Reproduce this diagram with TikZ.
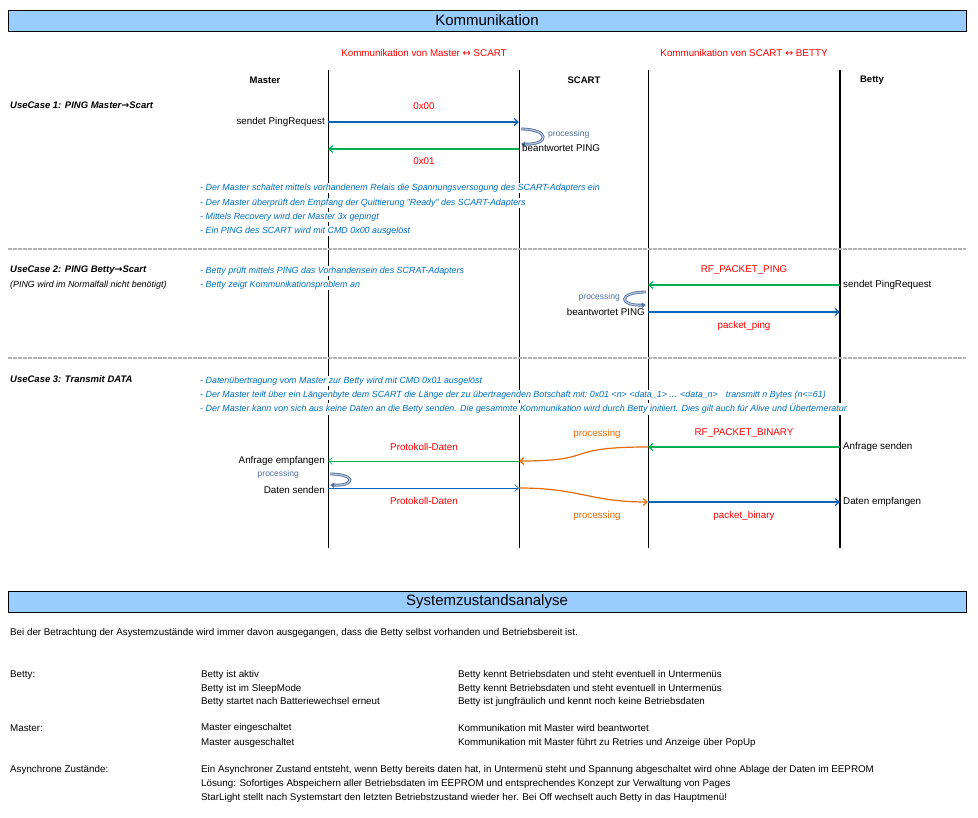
\documentclass[tikz,border=0pt]{standalone}
\usepackage{fontspec}
\setmainfont{Liberation Sans}
\newfontfamily\symfont{DejaVu Sans}
\usetikzlibrary{arrows.meta}
\definecolor{titleBlue}{HTML}{99CCFF}
\definecolor{msgRed}{HTML}{FF0000}
\definecolor{noteBlue}{HTML}{0070C0}
\definecolor{arrBlue}{HTML}{0B64B4}
\definecolor{arrGreen}{HTML}{00B050}
\definecolor{arrOrange}{HTML}{E36C09}
\definecolor{procBlue}{HTML}{4F6FA0}
\newcommand{\lr}{{\symfont\char"2194}}
\newcommand{\ra}{{\symfont\char"2192}}
\tikzset{
  txt/.style={inner sep=0pt, font=\fontsize{9.8}{11}\selectfont},
  titlebox/.style={draw, line width=0.8pt, fill=titleBlue, minimum width=958pt, minimum height=21pt, inner sep=0pt, font=\fontsize{15}{17}\selectfont},
  head/.style={txt, text=msgRed},
  colhead/.style={txt, font=\fontsize{9.5}{11}\selectfont\bfseries},
  usecase/.style={txt, anchor=west, font=\fontsize{9.5}{11}\selectfont\bfseries\itshape},
  note/.style={txt, anchor=west, text=noteBlue, fill=white, inner ysep=1pt, font=\fontsize{8.9}{10}\selectfont\itshape},
  msg/.style={txt, text=msgRed},
  proc/.style={txt, text=procBlue, font=\fontsize{8.5}{10}\selectfont},
  proco/.style={txt, text=arrOrange},
  life/.style={line width=0.5pt},
  sep/.style={draw=gray!60, line width=1.5pt, dash pattern=on 4pt off 1pt},
  blue arr/.style={draw=arrBlue, line width=1.2pt, -{Straight Barb[length=4pt,width=7pt]}},
  green arr/.style={draw=arrGreen, line width=1.2pt, -{Straight Barb[length=4pt,width=7pt]}},
  orange arr/.style={draw=arrOrange, line width=1.2pt, -{Straight Barb[length=4pt,width=7pt]}},
  loop/.style={draw=procBlue, double=procBlue!40, double distance=1.2pt, line width=0.8pt, -{Latex[length=4pt,width=6pt]}},
}
\begin{document}
\begin{tikzpicture}[x=1pt, y=-1pt]
    \useasboundingbox (0,0) rectangle (978,818);

    % Title Kommunikation
    \node[titlebox] (title1) at (487,20.5) {Kommunikation};
    \node[head] (hMS) at (424,53) {Kommunikation von Master \lr\ SCART};
    \node[head] (hSB) at (744,53) {Kommunikation von SCART \lr\ BETTY};
    \node[colhead] (cMaster) at (265,80) {Master};
    \node[colhead] (cScart) at (584,80) {SCART};
    \node[colhead] (cBetty) at (872,80) {Betty};

    % Lifelines
    \draw[life] (328,70) -- (328,548);
    \draw[life] (519,70) -- (519,548);
    \draw[life] (648,70) -- (648,548);
    \draw[life, line width=1.3pt] (840,70) -- (840,548);

    % Separators
    \draw[sep] (8,249) -- (966,249);
    \draw[sep] (8,358) -- (966,358);

    % UseCase 1
    \node[usecase] (uc1) at (10,105) {UseCase 1: PING Master\ra Scart};
    \node[txt, anchor=east] (u1send) at (325,122) {sendet PingRequest};
    \coordinate (m1) at (328,122);
    \coordinate (s1) at (519,122);
    \draw[blue arr] (m1) -- (s1);
    \node[msg] (u1req) at (424,106) {0x00};
    \draw[loop] (521,129) .. controls (550,129) and (550,145) .. (521,144);
    \node[proc, anchor=west] (u1proc) at (548,134) {processing};
    \node[txt, anchor=west] (u1ans) at (522,148) {beantwortet PING};
    \coordinate (s2) at (519,149);
    \coordinate (m2) at (328,149);
    \draw[green arr] (s2) -- (m2);
    \node[msg] (u1res) at (424,161) {0x01};
    \node[note] (n11) at (200,188) {- Der Master schaltet mittels vorhandenem Relais die Spannungsversogung des SCART-Adapters ein};
    \node[note] (n12) at (200,203) {- Der Master überprüft den Empfang der Quittierung "Ready" des SCART-Adapters};
    \node[note] (n13) at (200,217) {- Mittels Recovery wird der Master 3x gepingt};
    \node[note] (n14) at (200,231) {- Ein PING des SCART wird mit CMD 0x00 ausgelöst};

    % UseCase 2
    \node[usecase] (uc2) at (10,270) {UseCase 2: PING Betty\ra Scart};
    \node[txt, anchor=west, font=\fontsize{8.9}{10}\selectfont\itshape] (uc2b) at (10,285) {(PING wird im Normalfall nicht benötigt)};
    \node[note] (n21) at (200,271) {- Betty prüft mittels PING das Vorhandensein des SCRAT-Adapters};
    \node[note] (n22) at (200,285) {- Betty zeigt Kommunikationsproblem an};
    \coordinate (b3) at (840,285);
    \coordinate (s3) at (648,285);
    \draw[green arr] (b3) -- (s3);
    \node[msg] (u2req) at (744,270) {RF\_PACKET\_PING};
    \node[txt, anchor=west] (u2send) at (843,285) {sendet PingRequest};
    \draw[loop] (646,292) .. controls (618,292) and (618,306) .. (646,305);
    \node[proc, anchor=east] (u2proc) at (620,297) {processing};
    \node[txt, anchor=east] (u2ans) at (645,312) {beantwortet PING};
    \coordinate (s4) at (648,312);
    \coordinate (b4) at (840,312);
    \draw[blue arr] (s4) -- (b4);
    \node[msg] (u2res) at (744,326) {packet\_ping};

    % UseCase 3
    \node[usecase] (uc3) at (10,379) {UseCase 3: Transmit DATA};
    \node[note] (n31) at (200,381) {- Datenübertragung vom Master zur Betty wird mit CMD 0x01 ausgelöst};
    \node[note] (n32) at (200,395) {- Der Master teilt über ein Längenbyte dem SCART die Länge der zu übertragenden Botschaft mit:\ 0x01 <n> <data\_1> ... <data\_n>\hspace{8pt}transmitt n Bytes (n<=61)};
    \node[note] (n33) at (200,409) {- Der Master kann von sich aus keine Daten an die Betty senden. Die gesammte Kommunikation wird durch Betty initiiert. Dies gilt auch für Alive und Übertemeratur};
    \coordinate (b5) at (840,447);
    \coordinate (s5) at (648,447);
    \coordinate (r5) at (519,461);
    \coordinate (m5) at (328,461);
    \draw[green arr] (b5) -- (s5);
    \draw[orange arr] (s5) .. controls (560,447) and (600,461) .. (r5);
    \draw[draw=arrGreen, line width=0.6pt, -{Straight Barb[length=4pt,width=7pt]}] (r5) -- (m5);
    \node[msg] (u3req) at (744,433) {RF\_PACKET\_BINARY};
    \node[txt, anchor=west] (u3send) at (843,447) {Anfrage senden};
    \node[proco] (u3p1) at (597,434) {processing};
    \node[msg] (u3d1) at (424,447) {Protokoll-Daten};
    \node[txt, anchor=east] (u3rec) at (325,461) {Anfrage empfangen};
    \draw[loop] (330,474) .. controls (356,474) and (356,486) .. (330,485);
    \node[proc, anchor=east] (u3proc) at (299,474) {processing};
    \node[txt, anchor=east] (u3dat) at (325,490) {Daten senden};
    \coordinate (m6) at (328,488);
    \coordinate (r6) at (519,488);
    \coordinate (s6) at (648,502);
    \coordinate (b6) at (840,502);
    \draw[draw=arrBlue, line width=0.6pt, -{Straight Barb[length=4pt,width=7pt]}] (m6) -- (r6);
    \draw[orange arr] (r6) .. controls (580,488) and (590,502) .. (s6);
    \draw[blue arr] (s6) -- (b6);
    \node[msg] (u3d2) at (424,501) {Protokoll-Daten};
    \node[proco] (u3p2) at (597,516) {processing};
    \node[msg] (u3res) at (744,516) {packet\_binary};
    \node[txt, anchor=west] (u3emp) at (843,502) {Daten empfangen};

    % Title Systemzustandsanalyse
    \node[titlebox] (title2) at (487,601.5) {Systemzustandsanalyse};
    \node[txt, anchor=west] (intro) at (10,633) {Bei der Betrachtung der Asystemzustände wird immer davon ausgegangen, dass die Betty selbst vorhanden und Betriebsbereit ist.};

    \node[txt, anchor=west] (lBetty) at (10,675) {Betty:};
    \node[txt, anchor=west] (b1) at (201,675) {Betty ist aktiv};
    \node[txt, anchor=west] (b2) at (201,689) {Betty ist im SleepMode};
    \node[txt, anchor=west] (b3t) at (201,702) {Betty startet nach Batteriewechsel erneut};
    \node[txt, anchor=west] (bd1) at (458,675) {Betty kennt Betriebsdaten und steht eventuell in Untermenüs};
    \node[txt, anchor=west] (bd2) at (458,689) {Betty kennt Betriebsdaten und steht eventuell in Untermenüs};
    \node[txt, anchor=west] (bd3) at (458,702) {Betty ist jungfräulich und kennt noch keine Betriebsdaten};

    \node[txt, anchor=west] (lMaster) at (10,728) {Master:};
    \node[txt, anchor=west] (ma1) at (201,728) {Master eingeschaltet};
    \node[txt, anchor=west] (ma2) at (201,743) {Master ausgeschaltet};
    \node[txt, anchor=west] (md1) at (458,728) {Kommunikation mit Master wird beantwortet};
    \node[txt, anchor=west] (md2) at (458,743) {Kommunikation mit Master führt zu Retries und Anzeige über PopUp};

    \node[txt, anchor=west] (lAsync) at (10,770) {Asynchrone Zustände:};
    \node[txt, anchor=west] (as1) at (201,770) {Ein Asynchroner Zustand entsteht, wenn Betty bereits daten hat, in Untermenü steht und Spannung abgeschaltet wird ohne Ablage der Daten im EEPROM};
    \node[txt, anchor=west] (as2) at (201,784) {Lösung: Sofortiges Abspeichern aller Betriebsdaten im EEPROM und entsprechendes Konzept zur Verwaltung von Pages};
    \node[txt, anchor=west] (as3) at (201,798) {StarLight stellt nach Systemstart den letzten Betriebstzustand wieder her. Bei Off wechselt auch Betty in das Hauptmenü!};
\end{tikzpicture}
\end{document}
